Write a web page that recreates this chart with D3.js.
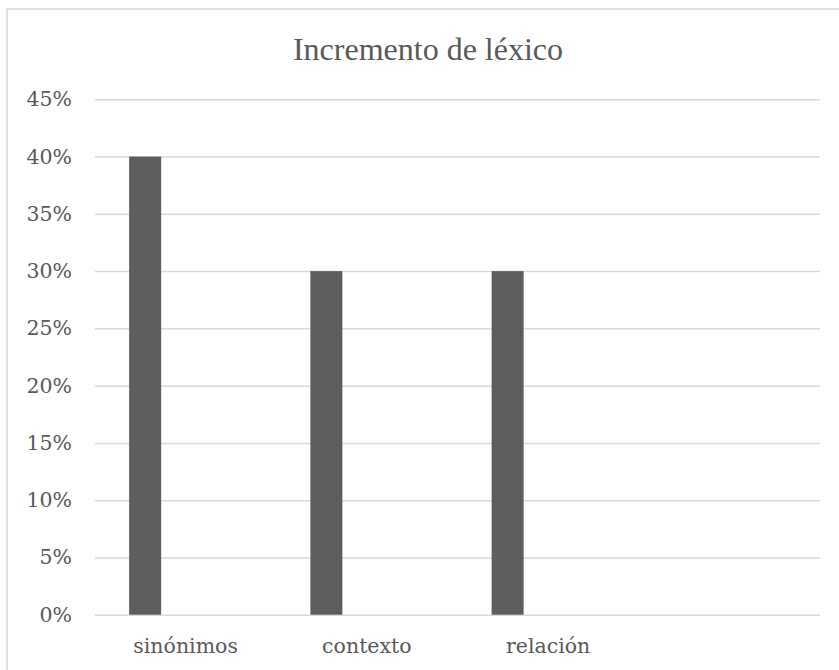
<!DOCTYPE html>
<html>
<head>
<meta charset="utf-8">
<script src="https://cdn.jsdelivr.net/npm/d3@7"></script>
<style>
  body { margin: 0; background: #fff; }
  svg { display: block; }
</style>
</head>
<body>
<svg id="chart" width="839" height="670"></svg>
<script>
// data
const chartTitle = "Incremento de léxico";
const categories = ["sinónimos", "contexto", "relación", ""];
const values = [0.40, 0.30, 0.30, null];
const yTicks = [0, 0.05, 0.10, 0.15, 0.20, 0.25, 0.30, 0.35, 0.40, 0.45];

var svg = d3.select("#chart"),
    width = +svg.attr("width"),
    height = +svg.attr("height");

var plotLeft = 95, plotRight = 820, plotTop = 99.3, plotBottom = 614.7;
var grey = "#595959", lineGrey = "#d9d9d9";

// chart frame, runs off the right and bottom edge
svg.append("rect")
    .attr("x", 7).attr("y", 9)
    .attr("width", 860).attr("height", 700)
    .attr("fill", "#fff")
    .attr("stroke", lineGrey)
    .attr("stroke-width", 1.5);

var x = d3.scaleBand()
    .domain(categories)
    .range([plotLeft, plotRight]);

var y = d3.scaleLinear()
    .domain([0, 0.45])
    .range([plotBottom, plotTop]);

// gridlines + y labels
var yAxis = d3.axisLeft(y)
    .tickValues(yTicks)
    .tickFormat(d3.format(".0%"))
    .tickSize(-(plotRight - plotLeft))
    .tickPadding(23);

var gy = svg.append("g")
    .attr("transform", "translate(" + plotLeft + ",0)")
    .call(yAxis);
gy.select(".domain").remove();
gy.selectAll("line").attr("stroke", lineGrey).attr("stroke-width", 1.5);
gy.selectAll("text")
    .attr("fill", grey)
    .style("font-family", "'DejaVu Serif', serif")
    .style("font-size", "20.5px");

// bars sit left of the category centre
var barW = 32, barShift = -40.5;
svg.append("g")
    .selectAll("rect")
    .data(categories.map(function(c, i) { return { cat: c, val: values[i] }; })
        .filter(function(d) { return d.val != null; }))
    .enter()
    .append("rect")
    .attr("x", function(d) { return x(d.cat) + x.bandwidth() / 2 + barShift - barW / 2; })
    .attr("y", function(d) { return y(d.val); })
    .attr("width", barW)
    .attr("height", function(d) { return y(0) - y(d.val); })
    .attr("fill", "#5d5d5d");

// x labels
var xAxis = d3.axisBottom(x).tickSize(0).tickPadding(24);
var gx = svg.append("g")
    .attr("transform", "translate(0," + plotBottom + ")")
    .call(xAxis);
gx.select(".domain").remove();
gx.selectAll("text")
    .attr("fill", grey)
    .style("font-family", "'DejaVu Serif', serif")
    .style("font-size", "20.5px");

// title
svg.append("text")
    .attr("x", 428)
    .attr("y", 60)
    .attr("text-anchor", "middle")
    .attr("fill", grey)
    .style("font-family", "'Liberation Serif', 'Times New Roman', serif")
    .style("font-size", "32px")
    .text(chartTitle);
</script>
</body>
</html>
